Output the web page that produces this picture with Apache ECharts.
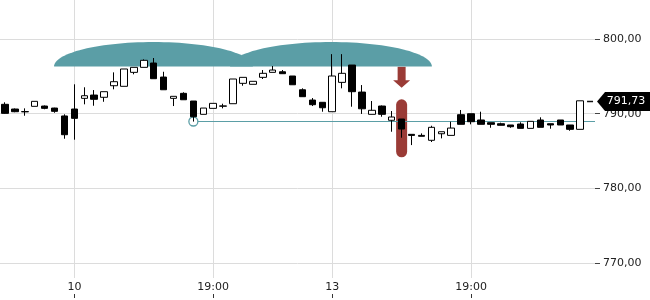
<!DOCTYPE html>
<html><head><meta charset="utf-8">
<script src="https://cdn.jsdelivr.net/npm/echarts@6/dist/echarts.min.js"></script>
<style>html,body{margin:0;padding:0;background:#fff}#c{width:650px;height:300px}</style>
</head><body><div id="c"></div>
<script>
// ---- data ----
const opens  = [791.26,790.63,790.25,790.99,791.03,790.76,789.70,790.63,792.06,792.50,792.20,793.75,793.67,795.54,796.21,796.79,794.91,792.06,792.73,791.70,789.92,790.72,791.00,791.34,794.07,793.94,794.87,795.54,795.62,795.05,793.21,791.83,791.53,790.27,794.20,796.52,792.90,789.92,791.03,789.12,789.29,787.24,787.10,786.44,787.32,787.10,789.87,790.00,789.16,788.80,788.66,788.49,788.62,788.04,789.16,788.66,789.16,788.49,787.91];
const closes = [790.05,790.27,790.29,791.66,790.72,790.32,787.19,789.38,792.41,791.93,792.95,794.29,795.99,796.21,797.15,794.69,793.21,792.33,791.87,789.60,790.76,791.39,791.05,794.65,794.87,794.34,795.41,795.85,795.36,793.88,792.28,791.21,790.80,795.05,795.41,792.95,790.66,790.46,789.92,789.56,787.95,787.10,786.98,788.18,787.59,788.08,788.58,788.93,788.58,788.58,788.45,788.26,788.04,788.98,788.18,788.49,788.49,787.91,791.73];
const lows   = [790.00,790.20,789.73,790.99,790.60,790.13,786.65,786.52,791.26,791.07,791.60,793.27,793.67,795.28,796.21,794.69,793.21,791.03,791.87,788.95,789.92,790.72,790.72,791.34,793.75,793.94,794.65,795.54,795.36,793.88,792.28,791.03,790.27,790.27,793.40,790.94,789.97,789.92,789.60,787.59,786.79,785.80,786.98,786.21,786.70,787.10,788.58,788.58,788.58,788.12,788.45,788.12,788.04,788.04,788.18,787.99,788.49,787.72,787.91];
const highs  = [791.53,790.70,790.72,791.66,791.10,790.80,789.92,793.94,793.54,793.17,792.95,795.54,795.99,796.21,797.28,797.46,795.62,792.33,792.87,791.70,790.76,791.39,791.34,794.65,794.87,794.34,795.85,796.39,795.85,795.05,793.40,792.10,791.53,797.98,797.98,796.52,793.84,791.70,791.10,790.36,789.29,787.24,787.37,788.39,787.59,788.93,790.50,790.00,790.27,788.80,788.80,788.49,788.85,788.98,789.52,788.66,789.16,788.49,791.73];
const slotCount = 60;               // 59 candles + one empty slot
const tickIndex  = [7, 21, 33, 47];
const tickLabels = ['10', '19:00', '13', '19:00'];
const yMin = 768, yMax = 805.23;
const lastPrice = 791.73;
const refStart = 19, refValue = 789.02;
const humpStarts = [4.95, 22.7];
const humpEnds   = [25.0, 43.05];
const humpBase = 796.32, humpTop = 799.6;
const signalIndex = 40;
const arrowFrom = 796.3, arrowTo = 793.48;
const pillTop = 791.93, pillBottom = 784.16;

// ---- build ----
const cats = Array.from({length: slotCount}, (_, i) => String(i));
const candleData = opens.map((o, i) => [o, closes[i], lows[i], highs[i]]);
const TEAL = '#5b9ea6', RED = '#9a3b36', GRIDC = '#dcdcdc';
const FONT = 'DejaVu Sans';

function fx(api, f, v) {
  const i = Math.floor(f);
  const bw = api.size([1, 0])[0];
  return api.coord([i, v])[0] + (f - i) * bw;
}

const chart = echarts.init(document.getElementById('c'), null, {renderer: 'canvas'});
chart.setOption({
  animation: false,
  backgroundColor: '#fff',
  grid: {left: 0, right: 55, top: 0, bottom: 22},
  xAxis: [{
    type: 'category', data: cats, boundaryGap: true,
    axisLine: {show: false}, axisTick: {show: false}, splitLine: {show: false},
    axisLabel: {
      interval: (idx) => tickIndex.includes(idx),
      formatter: (v, idx) => { const k = tickIndex.indexOf(Number(v)); return k >= 0 ? tickLabels[k] : ''; },
      color: '#222', fontSize: 11, fontFamily: FONT, margin: 4
    }
  }, {
    type: 'category', data: cats, boundaryGap: true, position: 'bottom', offset: 16,
    axisLine: {show: false}, axisLabel: {show: false}, splitLine: {show: false},
    axisTick: {show: true, alignWithLabel: true, length: 4, interval: (idx) => tickIndex.includes(idx), lineStyle: {color: '#333'}}
  }],
  yAxis: {
    type: 'value', position: 'right', min: yMin, max: yMax, splitNumber: 4, scale: true,
    axisLine: {show: false},
    axisTick: {show: true, length: 5, lineStyle: {color: '#444'}},
    splitLine: {show: true, showMinLine: false, showMaxLine: false, lineStyle: {color: GRIDC}},
    axisLabel: {
      showMinLabel: false, showMaxLabel: false, margin: 8,
      formatter: (v) => v.toFixed(2).replace('.', ','),
      color: '#222', fontSize: 11, fontFamily: FONT
    }
  },
  series: [
    { // vertical grid lines
      type: 'custom', z: 0, silent: true,
      data: tickIndex.map(i => [i]),
      renderItem: (params, api) => {
        const cs = params.coordSys;
        const x = Math.round(api.coord([api.value(0), yMin])[0]) + 0.5;
        return {type: 'line', shape: {x1: x, y1: cs.y, x2: x, y2: cs.y + cs.height}, style: {stroke: GRIDC, lineWidth: 1}};
      }
    },
    { // signal arrow + highlight pill
      type: 'custom', z: 1, silent: true,
      data: [[signalIndex, arrowFrom, arrowTo, pillTop, pillBottom]],
      renderItem: (params, api) => {
        const x = api.coord([api.value(0), 0])[0];
        const y0 = api.coord([api.value(0), api.value(1)])[1];
        const y1 = api.coord([api.value(0), api.value(2)])[1];
        const pt = api.coord([api.value(0), api.value(3)])[1];
        const pb = api.coord([api.value(0), api.value(4)])[1];
        const headH = 7.5;
        return {type: 'group', children: [
          {type: 'polygon', shape: {points: [[x - 4, y0], [x + 4, y0], [x + 4, y1 - headH], [x + 8.5, y1 - headH], [x, y1], [x - 8.5, y1 - headH], [x - 4, y1 - headH]]}, style: {fill: RED}},
          {type: 'rect', shape: {x: x - 5.5, y: pt, width: 11, height: pb - pt, r: 5.5}, style: {fill: RED}}
        ]};
      }
    },
    { // humps
      type: 'custom', z: 2, silent: true,
      data: humpStarts.map((s, i) => [s, humpEnds[i]]),
      renderItem: (params, api) => {
        const xa = fx(api, api.value(0), humpBase), xb = fx(api, api.value(1), humpBase);
        const yb = api.coord([0, humpBase])[1], yt = api.coord([0, humpTop])[1];
        const cx = (xa + xb) / 2, a = (xb - xa) / 2, h = yb - yt;
        const pts = [];
        for (let k = 0; k <= 60; k++) {
          const t = Math.PI * k / 60;
          pts.push([cx - a * Math.cos(t), yb - h * Math.sin(t)]);
        }
        return {type: 'polygon', shape: {points: pts}, style: {fill: TEAL}};
      }
    },
    { // reference line with circle
      type: 'custom', z: 3, silent: true,
      data: [[refStart, refValue]],
      renderItem: (params, api) => {
        const cs = params.coordSys;
        const p = api.coord([api.value(0), api.value(1)]);
        const y = Math.round(p[1]) + 0.5;
        return {type: 'group', children: [
          {type: 'line', shape: {x1: p[0] + 4.5, y1: y, x2: cs.x + cs.width, y2: y}, style: {stroke: TEAL, lineWidth: 1}},
          {type: 'circle', shape: {cx: p[0], cy: y, r: 4.5}, style: {fill: null, stroke: TEAL, lineWidth: 1.3}}
        ]};
      }
    },
    {
      type: 'candlestick', z: 5, data: candleData, barWidth: 7, silent: true,
      itemStyle: {color: '#fff', color0: '#000', borderColor: '#000', borderColor0: '#000', borderWidth: 1}
    },
    { // last price tag
      type: 'custom', z: 6, silent: true, clip: false,
      data: [[slotCount - 1, lastPrice]],
      renderItem: (params, api) => {
        const p = api.coord([api.value(0), api.value(1)]);
        const x = p[0], y = Math.round(p[1]) + 0.5;
        return {type: 'group', children: [
          {type: 'line', shape: {x1: x - 3, y1: y, x2: x + 3, y2: y}, style: {stroke: '#111', lineWidth: 1.5}},
          {type: 'polygon', shape: {points: [[x + 7, y], [x + 15, y - 9.5], [x + 60, y - 9.5], [x + 60, y + 9.5], [x + 15, y + 9.5]]}, style: {fill: '#000'}},
          {type: 'text', style: {x: x + 36, y: y, text: String(api.value(1).toFixed(2)).replace('.', ','), fill: '#fff', font: '11px "DejaVu Sans"', align: 'center', verticalAlign: 'middle'}}
        ]};
      }
    }
  ]
});
</script></body></html>
